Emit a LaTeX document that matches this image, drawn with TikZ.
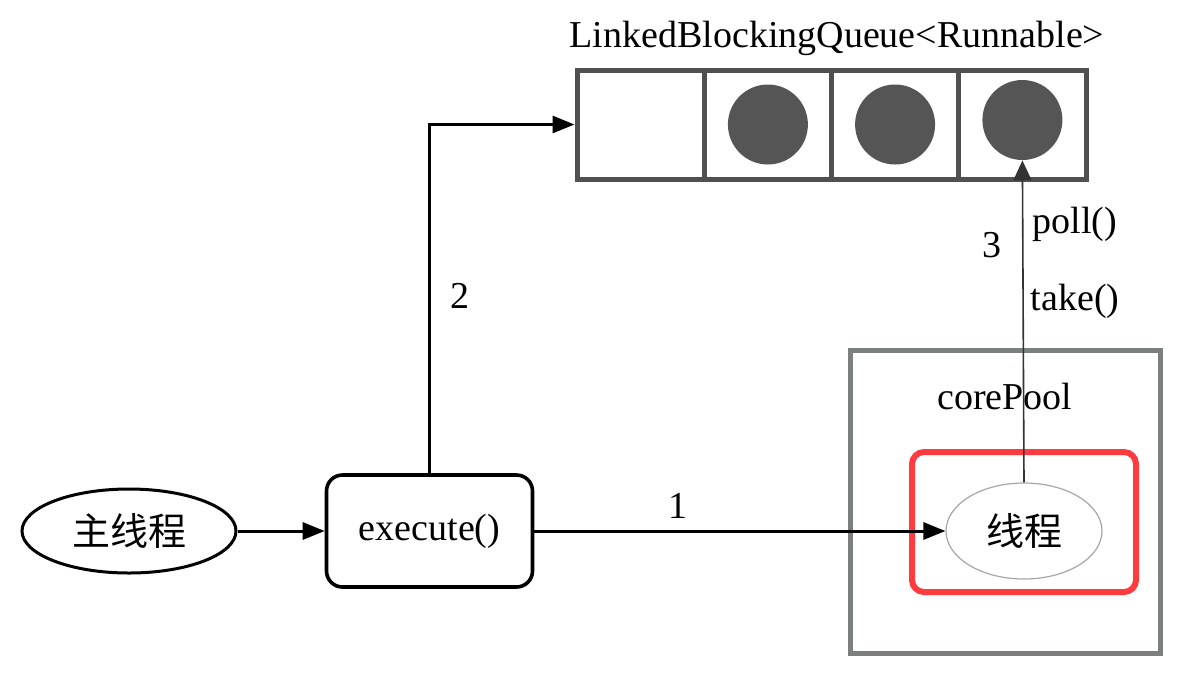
\documentclass[tikz,border=0pt]{standalone}
\usepackage{fontspec}
\setmainfont{Liberation Serif}
\newfontfamily\cjk{Noto Sans CJK SC}
\usetikzlibrary{shapes.geometric, arrows.meta}
\definecolor{cellgray}{HTML}{505050}
\definecolor{dotgray}{HTML}{555555}
\definecolor{poolgray}{HTML}{7B7F7E}
\definecolor{markred}{HTML}{FF3B3F}

\begin{document}
\begin{tikzpicture}[
    x=0.5pt, y=-0.5pt,
    font=\fontsize{19}{23}\selectfont,
    cell/.style={rectangle, draw=cellgray, line width=2.5pt, minimum width=63.6pt, minimum height=54.5pt, inner sep=0pt},
    dot/.style={circle, fill=dotgray, minimum size=40pt, inner sep=0pt},
    mainthread/.style={ellipse, draw=black, line width=1.5pt, minimum width=107pt, minimum height=42pt},
    call/.style={rectangle, draw=black, line width=1.8pt, rounded corners=8pt, minimum width=103pt, minimum height=56pt},
    worker/.style={ellipse, draw=gray!70, line width=0.6pt, minimum width=78pt, minimum height=48pt},
    pool/.style={rectangle, draw=poolgray, line width=2.5pt, minimum width=155pt, minimum height=151.5pt},
    highlight/.style={rectangle, draw=markred, line width=3pt, rounded corners=6pt, minimum width=112pt, minimum height=70pt},
    arrow/.style={-{Triangle[length=11pt, width=8.5pt]}, line width=1.5pt},
    thinarrow/.style={-{Triangle[length=10pt, width=9pt]}, line width=0.8pt, draw=black!80}
]
    \useasboundingbox (0,0) rectangle (1178,677);

    % queue
    \node at (837,38) (qtitle) {LinkedBlockingQueue<Runnable>};
    \node[cell] at (640.6,124.5) (cell1) {};
    \node[cell] at (767.9,124.5) (cell2) {};
    \node[cell] at (895.1,124.5) (cell3) {};
    \node[cell] at (1022.4,124.5) (cell4) {};
    \node[dot] at (cell2.center) (dot1) {};
    \node[dot] at (cell3.center) (dot2) {};
    \node[dot] at (1022.4,120) (dot3) {};

    % core pool
    \node[pool] at (1005,501.5) (pool) {};
    \node at (1005,396) (pooltitle) {corePool};
    \node[highlight] at (1024,522) (redbox) {};
    \node[worker] at (1024,531) (thread) {\cjk 线程};

    % caller side
    \node[mainthread] at (129,531) (main) {\cjk 主线程};
    \node[call] at (429.5,531) (exec) {execute()};

    \draw[arrow] (main) -- (exec);
    \draw[arrow] (exec) -- node[pos=0.35, above=2pt] (one) {1} (thread);
    \draw[arrow] (exec.north) |- (cell1.west);
    \node at (460,296) (two) {2};
    \draw[thinarrow] (thread.north) -- (dot3.south);
    \node at (992,245) (three) {3};
    \node at (1075,224) (poll) {poll()};
    \node at (1075,301) (take) {take()};
\end{tikzpicture}
\end{document}
